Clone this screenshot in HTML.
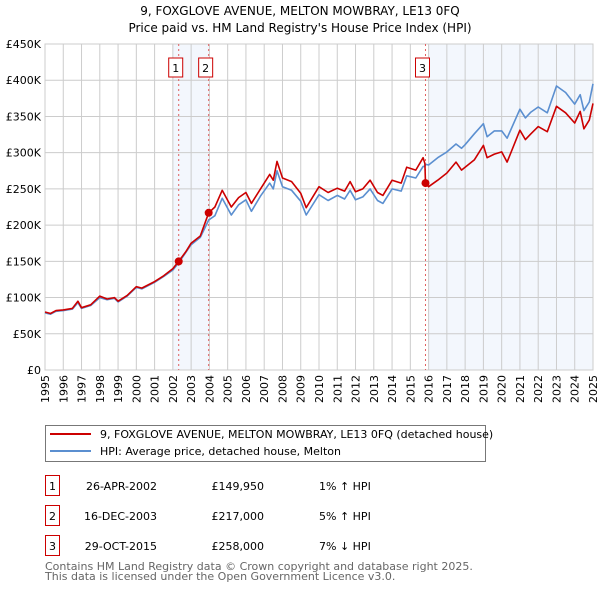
<!DOCTYPE html>
<html><head><meta charset="utf-8">
<style>
body{margin:0;background:#fff;width:600px;height:590px;overflow:hidden;font-family:"DejaVu Sans","Liberation Sans",sans-serif;}
svg{position:absolute;left:0;top:0}
</style></head>
<body>
<svg id="c" width="600" height="590" font-family="DejaVu Sans, Liberation Sans, sans-serif"></svg>
<script>
const years=[1995,1995.3,1995.6,1996,1996.5,1996.8,1997,1997.5,1998,1998.4,1998.8,1999,1999.5,2000,2000.3,2001,2001.5,2002,2002.32,2002.7,2003,2003.5,2003.96,2004.3,2004.7,2005.2,2005.6,2006,2006.3,2006.8,2007.3,2007.5,2007.7,2008,2008.5,2009,2009.3,2010,2010.5,2011,2011.4,2011.7,2012,2012.4,2012.8,2013.2,2013.5,2014,2014.5,2014.8,2015.3,2015.7,2015.8,2015.83,2016,2016.5,2017,2017.5,2017.8,2018,2018.5,2019,2019.2,2019.6,2020,2020.3,2021,2021.3,2021.6,2022,2022.5,2023,2023.5,2024,2024.3,2024.5,2024.8,2025];
const red=[80,78,82,83,85,95,86,90,102,98,100,95,103,115,113,122,130,140,150,163,175,185,217,225,248,225,238,245,230,250,270,262,288,265,260,244,224,253,245,251,247,260,246,250,262,245,241,262,258,280,276,293,285,258,253,262,272,287,276,280,290,310,293,298,301,287,331,318,326,336,329,364,355,341,357,333,345,368];
const blue=[79,77,81,82,84,93,85,89,100,97,99,94,102,114,112,121,129,138,148,162,173,183,207,213,237,214,228,235,219,240,258,250,275,253,248,233,214,242,234,241,236,248,235,239,250,234,230,250,247,268,265,281,281,284,283,293,301,312,306,311,326,340,322,330,330,320,360,348,356,363,355,392,383,367,380,358,370,395];
const sales=[[2002.32,149.95],[2003.96,217],[2015.83,258]];
const yTicks=[0,50,100,150,200,250,300,350,400,450];
const yLabels=["£0","£50K","£100K","£150K","£200K","£250K","£300K","£350K","£400K","£450K"];
const xTicks=[1995,1996,1997,1998,1999,2000,2001,2002,2003,2004,2005,2006,2007,2008,2009,2010,2011,2012,2013,2014,2015,2016,2017,2018,2019,2020,2021,2022,2023,2024,2025];

const L=45,R=593,T=44,B=370;
const X=y=>L+(y-1995)/30*(R-L);
const Y=v=>B-v/450*(B-T);
const svg=document.getElementById('c');const NS='http://www.w3.org/2000/svg';
function mk(t,a,p){const e=document.createElementNS(NS,t);for(const k in a)e.setAttribute(k,a[k]);(p||svg).appendChild(e);return e;}
function txt(s,a){const e=mk('text',a);e.textContent=s;return e;}

let e=txt('9, FOXGLOVE AVENUE, MELTON MOWBRAY, LE13 0FQ',{x:300,y:15,'text-anchor':'middle','font-size':12});

e=txt("Price paid vs. HM Land Registry's House Price Index (HPI)",{x:300,y:32,'text-anchor':'middle','font-size':12});


e=mk('rect',{x:X(2002.0),y:T,width:X(2003.96)-X(2002.0),height:B-T,fill:'#eef3fc',opacity:0.7});

e=mk('rect',{x:X(2016.0),y:T,width:R-X(2016.0),height:B-T,fill:'#eef3fc',opacity:0.7});


yTicks.forEach((v,i)=>{
 e=mk('line',{x1:L,x2:R,y1:Y(v),y2:Y(v),stroke:'#ccc','stroke-width':1});
 
 e=txt(yLabels[i],{x:L-4,y:Y(v)+4,'text-anchor':'end','font-size':11});
 
});
xTicks.forEach(y=>{
 e=mk('line',{x1:X(y),x2:X(y),y1:T,y2:B,stroke:'#ccc','stroke-width':1});
 
 e=txt(String(y),{x:0,y:0,'font-size':11,'text-anchor':'end',transform:`translate(${X(y)+4},${B+5}) rotate(-90)`});
 
});
e=mk('rect',{x:L,y:T,width:R-L,height:B-T,fill:'none',stroke:'#ccc'});


sales.forEach((s,i)=>{
 e=mk('line',{x1:X(s[0]),x2:X(s[0]),y1:T,y2:B,stroke:'#e06060','stroke-dasharray':'2,3','stroke-width':1});
 
 const bx=X(s[0])-(i<2?9:2)-(i==0?0:0);
 const cx=i==0?X(s[0])-3:(i==1?X(s[0])-3:X(s[0])-3);
 e=mk('rect',{x:cx-7,y:58,width:14,height:19,fill:'#fff',stroke:'#c00'});
 
 e=txt(String(i+1),{x:cx,y:72,'text-anchor':'middle','font-size':11});
 
});

function path(vals,col,name){
 let d=years.map((y,i)=>(i?'L':'M')+X(y).toFixed(1)+','+Y(vals[i]).toFixed(1)).join('');
 const p=mk('path',{d:d,fill:'none',stroke:col,'stroke-width':1.6,'stroke-linejoin':'round'});
 
}
path(blue,'#5b8fd0','hpi-line');
path(red,'#cc0000','price-line');
sales.forEach((s,i)=>{
 e=mk('circle',{cx:X(s[0]),cy:Y(s[1]),r:4,fill:'#cc0000'});
 
});

// legend
e=mk('rect',{x:45.5,y:425.5,width:440,height:36,fill:'#fff',stroke:'#777'});

e=mk('line',{x1:50,x2:91,y1:434,y2:434,stroke:'#cc0000','stroke-width':2});

e=txt('9, FOXGLOVE AVENUE, MELTON MOWBRAY, LE13 0FQ (detached house)',{x:100,y:438,'font-size':11});

e=mk('line',{x1:50,x2:91,y1:451,y2:451,stroke:'#5b8fd0','stroke-width':2});

e=txt('HPI: Average price, detached house, Melton',{x:100,y:455,'font-size':11});


const rows=[['1','26-APR-2002','£149,950','1% ↑ HPI'],['2','16-DEC-2003','£217,000','5% ↑ HPI'],['3','29-OCT-2015','£258,000','7% ↓ HPI']];
rows.forEach((r,i)=>{
 const y=483+i*30;
 e=mk('rect',{x:45.5,y:y-7.5,width:14,height:20,fill:'#fff',stroke:'#c00'});
 
 e=txt(r[0],{x:52.5,y:y+7,'text-anchor':'middle','font-size':11});
 
 e=txt(r[1],{x:157,y:y+7,'text-anchor':'end','font-size':11});
 
 e=txt(r[2],{x:264,y:y+7,'text-anchor':'end','font-size':11});
 
 e=txt(r[3],{x:319,y:y+7,'font-size':11});
 
});
e=txt('Contains HM Land Registry data © Crown copyright and database right 2025.',{x:45,y:570,'font-size':11,fill:'#666'});

e=txt('This data is licensed under the Open Government Licence v3.0.',{x:45,y:580,'font-size':11,fill:'#666'});

</script>
</body></html>
